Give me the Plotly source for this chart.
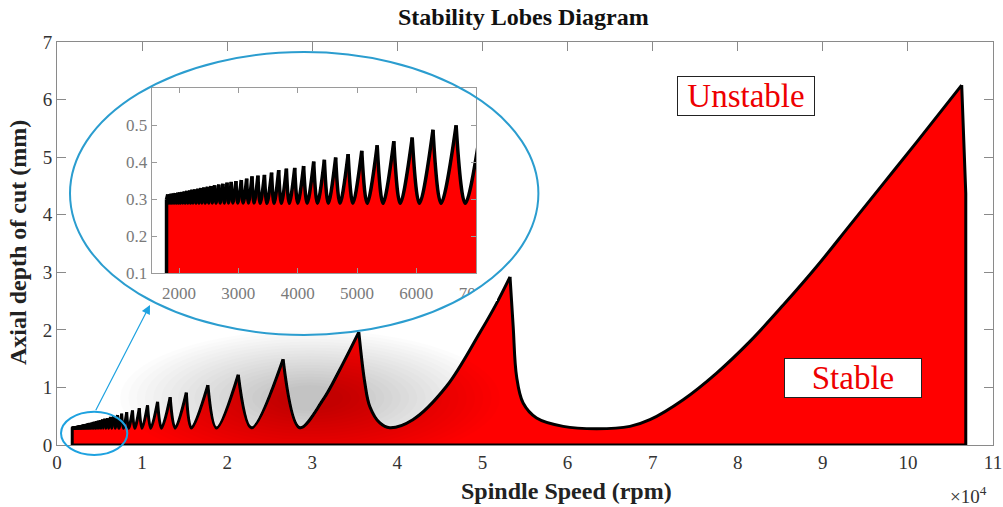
import math
import plotly.graph_objects as go

# ---------------- data ----------------
# cusp (peak) positions of the stability lobes, spindle speed in rpm
peak_rpm = [1810, 1840, 1870, 1905, 1940, 1980, 2010, 2050, 2090, 2130,
            2180, 2220, 2270, 2320, 2370, 2420, 2480, 2540, 2600, 2670,
            2740, 2810, 2880, 2960, 3050, 3140, 3230, 3330, 3440, 3560,
            3680, 3810, 3950, 4100, 4270, 4450, 4640, 4850, 5080, 5340,
            5620, 5930, 6280, 6670, 7110, 7600, 8190, 8870, 9670, 10640,
            11820, 13300, 15200, 17730, 21300, 26570, 35470, 53240, 106320]
# axial depth of cut at each cusp (mm)
peak_depth = [0.313, 0.314, 0.315, 0.316, 0.317, 0.318, 0.319, 0.320, 0.321, 0.323,
              0.324, 0.326, 0.327, 0.329, 0.331, 0.332, 0.334, 0.336, 0.338, 0.340,
              0.342, 0.345, 0.347, 0.349, 0.352, 0.356, 0.362, 0.364, 0.366, 0.372,
              0.379, 0.383, 0.385, 0.390, 0.402, 0.407, 0.413, 0.422, 0.431, 0.446,
              0.457, 0.467, 0.488, 0.500, 0.520, 0.545, 0.570, 0.600, 0.640, 0.690,
              0.750, 0.830, 0.910, 1.040, 1.220, 1.490, 1.960, 2.920, 6.250]
# bottom of each lobe (between two cusps)
trough_rpm = [1820, 1850, 1882, 1917, 1954, 1990, 2024, 2064, 2104, 2147,
              2194, 2237, 2287, 2337, 2387, 2441, 2501, 2561, 2624, 2694,
              2764, 2834, 2908, 2991, 3081, 3171, 3265, 3368, 3482, 3602,
              3725, 3859, 4002, 4160, 4333, 4516, 4713, 4930, 5171, 5438,
              5728, 6052, 6416, 6824, 7280, 7800, 8410, 9130, 9990, 11020,
              12280, 13880, 15800, 18740, 22850, 28530, 39110, 63410]
trough_depth = [0.290, 0.290, 0.290, 0.290, 0.290, 0.290, 0.290, 0.290, 0.290, 0.290,
                0.290, 0.290, 0.290, 0.290, 0.290, 0.290, 0.290, 0.290, 0.290, 0.290,
                0.290, 0.290, 0.290, 0.290, 0.290, 0.290, 0.290, 0.289, 0.289, 0.289,
                0.289, 0.289, 0.289, 0.289, 0.289, 0.289, 0.289, 0.289, 0.289, 0.289,
                0.289, 0.289, 0.289, 0.289, 0.290, 0.290, 0.290, 0.290, 0.290, 0.290,
                0.292, 0.293, 0.295, 0.296, 0.298, 0.300, 0.300, 0.284]
# extra points on the flanks of the large lobes
shoulder_rpm = [31270, 33230,
                36180, 36760, 37940, 41820, 45780, 49690, 51660,
                53610, 54010, 54780, 56360, 59490, 67330, 69680,
                73590, 77520, 81440, 85350, 89280, 93190, 97110, 101030]
shoulder_depth = [0.787, 1.307,
                  1.076, 0.670, 0.383, 0.440, 1.020, 1.950, 2.460,
                  2.060, 1.190, 0.730, 0.470, 0.324, 0.324, 0.440,
                  0.787, 1.250, 1.800, 2.430, 3.100, 3.820, 4.540, 5.260]
start_rpm, start_depth = 1790, 0.300
end_rpm, end_depth = 106800, 4.370

main_xtick_vals = [0, 10000, 20000, 30000, 40000, 50000, 60000, 70000, 80000, 90000, 100000, 110000]
main_xtick_text = ["0", "1", "2", "3", "4", "5", "6", "7", "8", "9", "10", "11"]
main_ytick_vals = [0, 1, 2, 3, 4, 5, 6, 7]
inset_xtick_vals = [2000, 3000, 4000, 5000, 6000, 7000]
inset_xtick_text = ["2000", "3000", "4000", "5000", "6000", "7000"]
inset_ytick_vals = [0.1, 0.2, 0.3, 0.4, 0.5]
inset_ytick_text = ["0.1", "0.2", "0.3", "0.4", "0.5"]

# ---------------- geometry helpers (pixel layout) ----------------
W, H = 1003, 507
L, R, T, B = 57, 10, 42, 62
PW, PH = W - L - R, H - T - B


def px_x(px):
    return (px - L) / PW


def px_y(py):
    return (H - B - py) / PH


# ---------------- build lobe segments ----------------
segs = []
segs.append(([start_rpm, start_rpm], [0.0, start_depth], "linear"))
segs.append(([start_rpm, peak_rpm[0]], [start_depth, peak_depth[0]], "linear"))
for i in range(len(peak_rpm) - 1):
    inner = [(trough_rpm[i], trough_depth[i])]
    inner += [(r, d) for r, d in zip(shoulder_rpm, shoulder_depth)
              if peak_rpm[i] < r < peak_rpm[i + 1]]
    inner.sort()
    xs = [peak_rpm[i]] + [p[0] for p in inner] + [peak_rpm[i + 1]]
    ys = [peak_depth[i]] + [p[1] for p in inner] + [peak_depth[i + 1]]
    segs.append((xs, ys, "spline"))
segs.append(([peak_rpm[-1], end_rpm, end_rpm], [peak_depth[-1], end_depth, 0.0], "linear"))

# vertical red strokes under every cusp (hide seams between fill pieces)
seam_x, seam_y = [], []
for r, d in zip(peak_rpm + [start_rpm], peak_depth + [start_depth]):
    seam_x += [r, r, None]
    seam_y += [0, d * 0.985, None]

RED = "#ff0000"
fig = go.Figure()


def add_lobes(xref, yref, width, limit=None):
    use = [s for s in segs if limit is None or s[0][0] < limit]
    for xs, ys, shp in use:
        fig.add_trace(go.Scatter(x=xs, y=ys, mode="lines", xaxis=xref, yaxis=yref,
                                 line=dict(width=0, shape=shp, color="rgba(0,0,0,0)"),
                                 fill="tozeroy", fillcolor=RED, hoverinfo="skip",
                                 showlegend=False))
    fig.add_trace(go.Scatter(x=seam_x, y=seam_y, mode="lines", xaxis=xref, yaxis=yref,
                             line=dict(width=2, color=RED), hoverinfo="skip",
                             showlegend=False, connectgaps=False))
    for xs, ys, shp in use:
        fig.add_trace(go.Scatter(x=xs, y=ys, mode="lines", xaxis=xref, yaxis=yref,
                                 line=dict(width=width, shape=shp, color="black"),
                                 hoverinfo="skip", showlegend=False))


add_lobes("x", "y", 3)
fig.add_trace(go.Scatter(x=[start_rpm, end_rpm], y=[0, 0], mode="lines",
                         line=dict(width=3, color="black"), hoverinfo="skip",
                         showlegend=False))
add_lobes("x2", "y2", 3.5, limit=7100)

# ---------------- axes ----------------
serif = "Liberation Serif"
main_axis = dict(showgrid=False, zeroline=False, showline=True, linecolor="#8a8a8a",
                 linewidth=1, mirror="ticks", ticks="inside", ticklen=9, automargin=False,
                 tickcolor="#8a8a8a", tickfont=dict(family=serif, size=19, color="#333333"),
                 layer="below traces")
inset_axis = dict(showgrid=False, zeroline=False, showline=True, linecolor="#9a9a9a",
                  linewidth=1.3, mirror="ticks", ticks="inside", ticklen=5, automargin=False,
                  tickcolor="#9a9a9a", tickfont=dict(family=serif, size=17, color="#7a7a7a"))

fig.update_layout(
    width=W, height=H, margin=dict(l=L, r=R, t=T, b=B, autoexpand=False),
    paper_bgcolor="white", plot_bgcolor="rgba(0,0,0,0)", showlegend=False,
    xaxis=dict(range=[0, 110000], tickvals=main_xtick_vals, ticktext=main_xtick_text,
               **main_axis),
    yaxis=dict(range=[0, 7], tickvals=main_ytick_vals, **main_axis),
    xaxis2=dict(domain=[px_x(151.7), px_x(476)], anchor="y2", range=[1540, 7005],
                tickvals=inset_xtick_vals, ticktext=inset_xtick_text,
                ticklabelstandoff=4, **inset_axis),
    yaxis2=dict(domain=[px_y(273.3), px_y(88.3)], anchor="x2", range=[0.1, 0.6],
                tickvals=inset_ytick_vals, ticktext=inset_ytick_text, **inset_axis),
)

# ---------------- decorations ----------------
shapes = []
# soft grey shadow below the magnifier
cx_rpm = (310 - L) / PW * 110000
cy_mm = (H - B - 398) / PH * 7
n_layers = 20
for k in range(n_layers):
    f = 1 - k / n_layers
    rx = (25 + 165 * f) / PW * 110000
    ry = (10 + 58 * f) / PH * 7
    shapes.append(dict(type="circle", xref="x", yref="y", layer="above",
                       x0=cx_rpm - rx, x1=cx_rpm + rx, y0=cy_mm - ry, y1=cy_mm + ry,
                       fillcolor="rgba(0,0,0,0.0115)", line=dict(width=0)))

# white patch hiding the part of the inset outside the big ellipse
ecx, ecy, erx, ery = 304.2, 193.5, 234.2, 141.5
pts = []
for j in range(9):
    yy = 283 + j * (301 - 283) / 8
    xx = ecx + erx * math.sqrt(max(0.0, 1 - ((yy - ecy) / ery) ** 2))
    pts.append((px_x(xx + 1), px_y(yy)))
path = "M " + " L ".join(f"{a:.5f},{b:.5f}" for a, b in pts)
path += f" L {px_x(497):.5f},{px_y(301):.5f} L {px_x(497):.5f},{px_y(283):.5f} Z"
shapes.append(dict(type="path", xref="paper", yref="paper", layer="above", path=path,
                   fillcolor="white", line=dict(width=0)))

# big ellipse around the inset and small ellipse around the zoomed region
shapes.append(dict(type="circle", xref="paper", yref="paper", layer="above",
                   x0=px_x(ecx - erx), x1=px_x(ecx + erx), y0=px_y(ecy + ery), y1=px_y(ecy - ery),
                   line=dict(color="#2b9dcf", width=2)))
shapes.append(dict(type="circle", xref="paper", yref="paper", layer="above",
                   x0=px_x(61), x1=px_x(127.3), y0=px_y(455), y1=px_y(411.7),
                   line=dict(color="#1ea2e0", width=2)))
fig.update_layout(shapes=shapes)

ann = []
ann.append(dict(text="<b>Stability Lobes Diagram</b>", xref="paper", yref="paper",
                x=px_x(523), y=px_y(17), showarrow=False, xanchor="center", yanchor="middle",
                font=dict(family=serif, size=24, color="#111111")))
ann.append(dict(text="<b>Spindle Speed (rpm)</b>", xref="paper", yref="paper",
                x=px_x(566), y=px_y(491), showarrow=False, xanchor="center", yanchor="middle",
                font=dict(family=serif, size=24, color="#222222")))
ann.append(dict(text="<b>Axial depth of cut (mm)</b>", xref="paper", yref="paper",
                x=px_x(18), y=px_y(243), showarrow=False, textangle=-90,
                xanchor="center", yanchor="middle",
                font=dict(family=serif, size=24, color="#222222")))
ann.append(dict(text="×10<sup>4</sup>", xref="paper", yref="paper",
                x=px_x(968), y=px_y(495), showarrow=False, xanchor="center", yanchor="middle",
                font=dict(family=serif, size=19, color="#333333")))
ann.append(dict(text="Unstable", xref="paper", yref="paper", x=px_x(746.2), y=px_y(95.8),
                showarrow=False, xanchor="center", yanchor="middle", width=136, height=38,
                bgcolor="white", bordercolor="#222222", borderwidth=1, borderpad=0,
                font=dict(family=serif, size=33, color="#ee0000")))
ann.append(dict(text="Stable", xref="paper", yref="paper", x=px_x(852.8), y=px_y(377.7),
                showarrow=False, xanchor="center", yanchor="middle", width=136, height=38,
                bgcolor="white", bordercolor="#222222", borderwidth=1, borderpad=0,
                font=dict(family=serif, size=33, color="#ee0000")))
ann.append(dict(text="", xref="paper", yref="paper", x=px_x(150), y=px_y(305),
                showarrow=True, ax=95 - 150, ay=411.7 - 305, arrowhead=2, arrowsize=1.5,
                arrowwidth=1.2, arrowcolor="#1ea2e0", standoff=0, startstandoff=0))
fig.update_layout(annotations=ann)

fig.write_html("out.html")
